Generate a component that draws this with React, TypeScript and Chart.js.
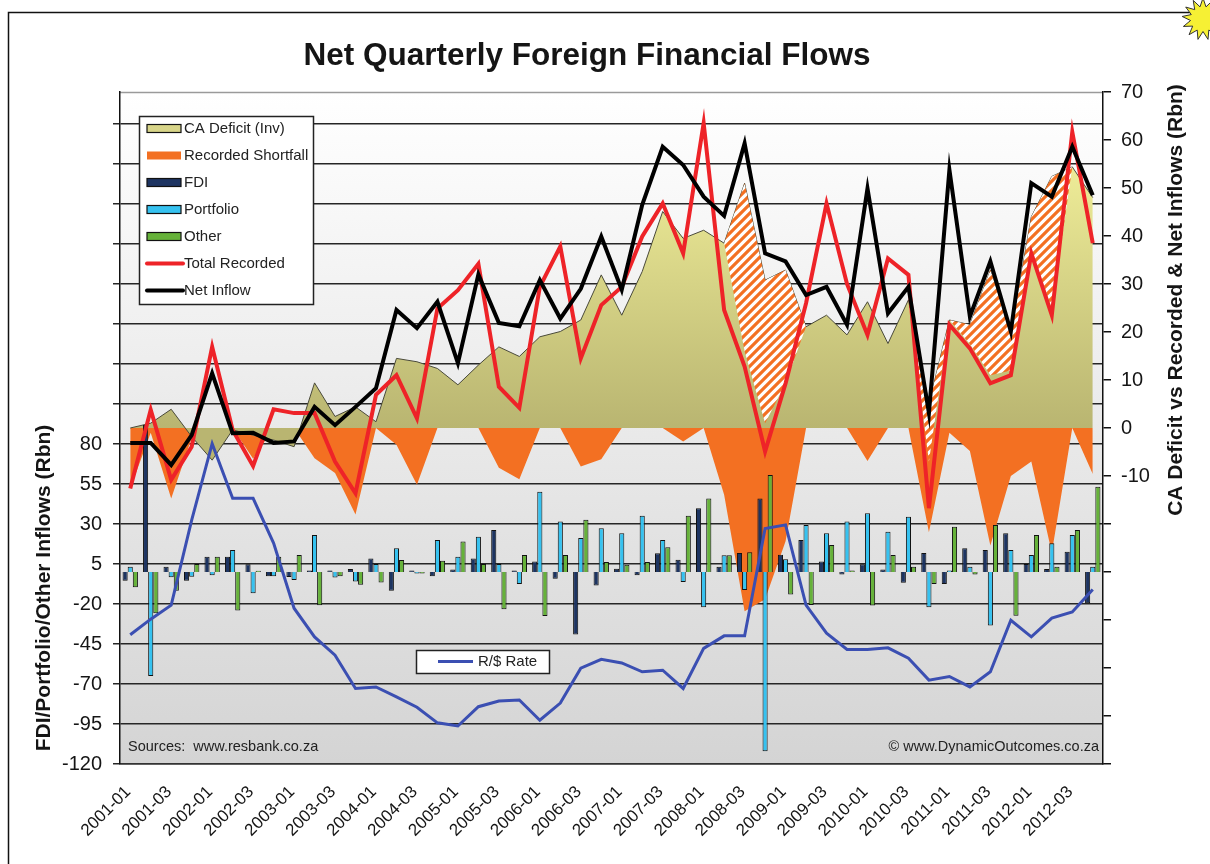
import React, { useEffect, useRef } from 'react';
import { Chart, registerables } from 'chart.js';

Chart.register(...registerables);

const FONT = "'Liberation Sans', Arial, Helvetica, sans-serif";

const TITLE = 'Net Quarterly Foreign Financial Flows';
const LEFT_TITLE = 'FDI/Portfolio/Other Inflows (Rbn)';
const RIGHT_TITLE = 'CA Deficit vs Recorded & Net Inflows (Rbn)';
const SOURCE_TEXT = 'Sources:  www.resbank.co.za';
const COPY_TEXT = '\u00A9 www.DynamicOutcomes.co.za';

const quarters = [
  '2001-01', '2001-02', '2001-03', '2001-04',
  '2002-01', '2002-02', '2002-03', '2002-04',
  '2003-01', '2003-02', '2003-03', '2003-04',
  '2004-01', '2004-02', '2004-03', '2004-04',
  '2005-01', '2005-02', '2005-03', '2005-04',
  '2006-01', '2006-02', '2006-03', '2006-04',
  '2007-01', '2007-02', '2007-03', '2007-04',
  '2008-01', '2008-02', '2008-03', '2008-04',
  '2009-01', '2009-02', '2009-03', '2009-04',
  '2010-01', '2010-02', '2010-03', '2010-04',
  '2011-01', '2011-02', '2011-03', '2011-04',
  '2012-01', '2012-02', '2012-03', '2012-04',
];

// Right axis (Rbn)
const caDeficit = [
  0, 1, 3.9, -1.8, -6.7, -0.4, -1.5, -2.5, -3.9, 9.4, 2.4, 4.4,
  1.3, 14.5, 13.8, 12.4, 9.0, 13.1, 16.9, 14.9, 19.0, 20.1, 22.5, 31.9,
  23.5, 32.6, 45.1, 39.5, 41.2, 38.5, 51.0, 30.8, 32.9, 21.1, 23.5, 19.4,
  26.3, 17.6, 26.7, 5.0, 22.5, 21.5, 32.9, 19.7, 44.0, 52.4, 54.4, 48.0,
];
const recordedShortfall = [
  -12.6, -1, -14.7, -2.1, 0, 0, -6.4, 0, 0, -6.3, -9.4, -18,
  0, -3.5, -11.8, 0, 0, 0, -8.3, -10.7, 0, 0, -8, -6.5,
  0, 0, 0, -2.8, 0, -13.9, -38.2, -35.7, -23.6, 0, 0, 0,
  -6.9, 0, 0, -21.7, -1, -4.8, -24.5, -10, -7, -26, 0, -9.6,
];
const totalRecorded = [
  -12.6, 3.8, -10.8, -3.9, 16.9, -0.4, -7.9, 3.9, 3.1, 3.1, -7.0, -13.6,
  6.9, 11.0, 2.0, 24.9, 28.7, 34.2, 8.6, 4.2, 29.4, 37.8, 14.5, 25.6,
  29.4, 39.9, 46.8, 36.4, 63.5, 24.6, 12.8, -4.9, 9.3, 26.0, 46.8, 30.0,
  19.4, 35.3, 31.9, -16.7, 21.5, 16.6, 9.3, 11.0, 36.4, 23.5, 61.7, 38.5,
];
const netInflow = [
  -3.1, -3.1, -7.7, -1.5, 11.4, -1.1, -1.0, -3.1, -2.8, 4.4, 0.6, 4.4,
  8.3, 24.6, 20.8, 26.3, 13.5, 32.0, 21.9, 21.2, 30.8, 22.8, 29.0, 39.9,
  28.8, 46.5, 58.6, 54.8, 48.2, 44.2, 59.3, 36.4, 34.7, 27.7, 29.4, 21.5,
  49.9, 23.9, 29.4, 3.1, 53.8, 23.2, 34.7, 20.1, 51.0, 48.2, 58.6, 48.5,
];
// lower edge of the hatched (unrecorded) band, null where there is no hatching
const hatchFloor = [
  null, null, null, null, null, null, null, null, null, null, null, null,
  null, null, null, null, null, null, null, null, null, null, null, null,
  null, null, null, null, null, 38.5, 16.0, 1.0, 9.3, 21.1, null, null,
  null, null, 26.7, -7.0, 22.5, 17.5, 11.0, 12.0, 37.0, 25.0, 54.4, null,
];

// Left axis (Rbn)
const fdi = [
  -5.5, 92, 3.3, -5.4, 9.6, 9.6, 4.8, -2.7, -3.1, 1, 1, 1.9,
  8.5, -11.7, 1, -2.7, 1.5, 8.5, 26.3, 1, 6.5, -4.2, -39, -8.5,
  2, -2, 11.7, 7.7, 39.8, 3.3, 11.9, 46, 10.8, 20, 6.5, -1.5,
  4.8, 1.5, -6.7, 11.9, -7.5, 14.8, 13.8, 24.2, 5, 1.9, 12.7, -19.6,
];
const portfolio = [
  3.3, -65, -3.3, -2.9, -2, 13.8, -13.3, -2.7, -5, 23.1, -3.5, -6,
  5, 14.8, -1, 20, 9.6, 22, 5, -7.5, 50.2, 31.5, 21.2, 27.3,
  24.2, 35.2, 20, -6.2, -22, 10.4, -11.3, -112, 8, 29.4, 24.2, 31.5,
  36.7, 25.2, 34.6, -22, 1, 3.3, -33.5, 13.8, 10.6, 18, 23.1, 3.3,
];
const other = [
  -9.6, -25.8, -11.7, 5, 9.6, -24, 0.8, 9.6, 10.6, -20.8, -2.7, -8,
  -6.5, 7.5, -1, 7, 19, 5, -23.3, 10.6, -27.5, 10.6, 32.7, 6.3,
  4.6, 6.3, 15.4, 35.2, 46, 10.4, 12.3, 60.6, -14, -20.6, 16.9, 1,
  -21, 10.6, 3.3, -7.5, 28.3, -1.5, 29.4, -27.3, 23.1, 3.3, 26.3, 53.3,
];

// Rand per US dollar
const randDollar = [
  7.78, 8.08, 8.35, 9.98, 11.45, 10.4, 10.4, 9.54, 8.29, 7.74, 7.39, 6.75,
  6.78, 6.59, 6.39, 6.09, 6.03, 6.4, 6.51, 6.53, 6.14, 6.47, 7.14, 7.31,
  7.24, 7.07, 7.1, 6.75, 7.52, 7.76, 7.76, 9.82, 9.89, 8.35, 7.81, 7.5,
  7.5, 7.53, 7.33, 6.91, 6.98, 6.78, 7.07, 8.06, 7.74, 8.1, 8.22, 8.65,
];

const leftTicks = [-120, -95, -70, -45, -20, 5, 30, 55, 80, 105, 130, 155, 180, 205, 230, 255, 280];
const LEFT_LABEL_MAX = 80;
const RIGHT_LABEL_MIN = -10;

const C = {
  khakiTop: '#f3f19b',
  khakiBottom: '#b9b571',
  khakiSwatch: '#d8d589',
  orange: '#f37022',
  navy: '#1d3461',
  cyan: '#36c2f0',
  green: '#66b23a',
  red: '#ee2328',
  black: '#000000',
  blue: '#3b4fb2',
  grid: '#262626',
  text: '#151515',
};

const legendRows = [
  { label: 'CA Deficit (Inv)', kind: 'rect', fill: C.khakiSwatch, stroke: true },
  { label: 'Recorded Shortfall', kind: 'rect', fill: C.orange, stroke: false },
  { label: 'FDI', kind: 'rect', fill: C.navy, stroke: true },
  { label: 'Portfolio', kind: 'rect', fill: C.cyan, stroke: true },
  { label: 'Other', kind: 'rect', fill: C.green, stroke: true },
  { label: 'Total Recorded', kind: 'line', fill: C.red, stroke: false },
  { label: 'Net Inflow', kind: 'line', fill: C.black, stroke: false },
];

function makeHatch(): CanvasPattern | string {
  const c = document.createElement('canvas');
  c.width = 9;
  c.height = 9;
  const g = c.getContext('2d');
  if (!g) return C.orange;
  g.fillStyle = '#ffffff';
  g.fillRect(0, 0, 9, 9);
  g.strokeStyle = C.orange;
  g.lineWidth = 3.2;
  g.beginPath();
  g.moveTo(-3, 3); g.lineTo(3, -3);
  g.moveTo(-1, 10); g.lineTo(10, -1);
  g.moveTo(6, 12); g.lineTo(12, 6);
  g.stroke();
  const p = g.createPattern(c, 'repeat');
  return p || C.orange;
}

const decorPlugin = {
  id: 'decor',
  beforeDraw(chart: any) {
    const { ctx, chartArea: a, width, height } = chart;
    ctx.save();
    ctx.fillStyle = '#ffffff';
    ctx.fillRect(0, 0, width, height);
    const g = ctx.createLinearGradient(0, a.top, 0, a.bottom);
    g.addColorStop(0, '#ffffff');
    g.addColorStop(1, '#d4d4d4');
    ctx.fillStyle = g;
    ctx.fillRect(a.left, a.top, a.right - a.left, a.bottom - a.top);
    ctx.strokeStyle = '#9a9a9a';
    ctx.lineWidth = 1.5;
    ctx.beginPath();
    ctx.moveTo(a.left, a.top + 0.5);
    ctx.lineTo(a.right, a.top + 0.5);
    ctx.stroke();
    ctx.restore();
  },
  afterDraw(chart: any) {
    const { ctx, chartArea: a } = chart;
    ctx.save();

    // outer frame
    ctx.strokeStyle = '#111';
    ctx.lineWidth = 1.5;
    ctx.beginPath();
    ctx.moveTo(8.5, chart.height);
    ctx.lineTo(8.5, 12.5);
    ctx.lineTo(1195, 12.5);
    ctx.stroke();

    // starburst
    const cx = 1203, cy = 19, R = 21, r = 12.5, n = 13;
    ctx.beginPath();
    for (let k = 0; k < 2 * n; k++) {
      const ang = -Math.PI / 2 + (k * Math.PI) / n;
      const rad = k % 2 === 0 ? R : r;
      const px = cx + rad * Math.cos(ang);
      const py = cy + rad * Math.sin(ang);
      if (k === 0) ctx.moveTo(px, py); else ctx.lineTo(px, py);
    }
    ctx.closePath();
    ctx.fillStyle = '#f6f034';
    ctx.fill();
    ctx.strokeStyle = '#333';
    ctx.lineWidth = 1;
    ctx.stroke();

    // title
    ctx.fillStyle = C.text;
    ctx.font = `bold 31.5px ${FONT}`;
    ctx.textAlign = 'center';
    ctx.textBaseline = 'alphabetic';
    ctx.fillText(TITLE, 587, 65);

    // axis titles
    ctx.font = `bold 21px ${FONT}`;
    ctx.textBaseline = 'middle';
    ctx.save();
    ctx.translate(44, 588);
    ctx.rotate(-Math.PI / 2);
    ctx.fillText(LEFT_TITLE, 0, 0);
    ctx.restore();
    ctx.save();
    ctx.translate(1176, 300);
    ctx.rotate(-Math.PI / 2);
    ctx.fillText(RIGHT_TITLE, 0, 0);
    ctx.restore();

    // main legend
    const lx = a.left + 19, ly = a.top + 24, lw = 174, lh = 188;
    ctx.fillStyle = '#ffffff';
    ctx.fillRect(lx, ly, lw, lh);
    ctx.strokeStyle = '#222';
    ctx.lineWidth = 1.5;
    ctx.strokeRect(lx + 0.5, ly + 0.5, lw, lh);
    ctx.font = `15px ${FONT}`;
    ctx.textAlign = 'left';
    ctx.textBaseline = 'middle';
    legendRows.forEach((row, k) => {
      const yy = ly + 12.5 + k * 27;
      if (row.kind === 'rect') {
        ctx.fillStyle = row.fill;
        ctx.fillRect(lx + 8, yy - 4, 34, 8);
        if (row.stroke) {
          ctx.strokeStyle = '#111';
          ctx.lineWidth = 1.2;
          ctx.strokeRect(lx + 8, yy - 4, 34, 8);
        }
      } else {
        ctx.strokeStyle = row.fill;
        ctx.lineWidth = 4;
        ctx.lineCap = 'round';
        ctx.beginPath();
        ctx.moveTo(lx + 8, yy);
        ctx.lineTo(lx + 44, yy);
        ctx.stroke();
        ctx.lineCap = 'butt';
      }
      ctx.fillStyle = '#222';
      ctx.fillText(row.label, lx + 45, yy);
    });

    // R/$ legend
    const rx = 416, ry = 650, rw = 133, rh = 23;
    ctx.fillStyle = '#ffffff';
    ctx.fillRect(rx, ry, rw, rh);
    ctx.strokeStyle = '#222';
    ctx.lineWidth = 1.5;
    ctx.strokeRect(rx + 0.5, ry + 0.5, rw, rh);
    ctx.strokeStyle = C.blue;
    ctx.lineWidth = 3;
    ctx.beginPath();
    ctx.moveTo(rx + 22, ry + 11.5);
    ctx.lineTo(rx + 57, ry + 11.5);
    ctx.stroke();
    ctx.fillStyle = '#222';
    ctx.fillText('R/$ Rate', rx + 62, ry + 12);

    // sources
    ctx.font = `14.5px ${FONT}`;
    ctx.textBaseline = 'alphabetic';
    ctx.fillStyle = '#222';
    ctx.textAlign = 'left';
    ctx.fillText(SOURCE_TEXT, a.left + 8, a.bottom - 13);
    ctx.textAlign = 'right';
    ctx.fillText(COPY_TEXT, a.right - 4, a.bottom - 13);

    ctx.restore();
  },
};

export default function App() {
  const ref = useRef<HTMLCanvasElement>(null);

  useEffect(() => {
    const canvas = ref.current;
    if (!canvas) return;
    const hatch = makeHatch();

    const caFill = (c: any) => {
      const ch = c.chart;
      const a = ch.chartArea;
      if (!a || !ch.scales || !ch.scales.yR) return C.khakiSwatch;
      const y0 = ch.scales.yR.getPixelForValue(0);
      const g = ch.ctx.createLinearGradient(0, a.top + 50, 0, y0);
      g.addColorStop(0, C.khakiTop);
      g.addColorStop(1, C.khakiBottom);
      return g;
    };

    const lineBase = {
      type: 'line' as const,
      yAxisID: 'yR',
      pointRadius: 0,
      pointHoverRadius: 0,
      tension: 0,
    };

    const chart = new Chart(canvas, {
      type: 'bar',
      data: {
        labels: quarters,
        datasets: [
          {
            ...lineBase,
            label: 'CA Deficit (Inv)',
            data: caDeficit,
            fill: 'origin',
            backgroundColor: caFill,
            borderColor: '#4a4a3a',
            borderWidth: 1,
            order: 9,
          },
          {
            ...lineBase,
            label: 'Recorded Shortfall',
            data: recordedShortfall,
            fill: 'origin',
            backgroundColor: C.orange,
            borderColor: 'rgba(0,0,0,0)',
            borderWidth: 1,
            order: 10,
          },
          {
            type: 'bar',
            label: 'FDI',
            data: fdi,
            yAxisID: 'yL',
            backgroundColor: C.navy,
            borderColor: '#111',
            borderWidth: 1,
            categoryPercentage: 0.75,
            barPercentage: 1,
            order: 5,
          },
          {
            type: 'bar',
            label: 'Portfolio',
            data: portfolio,
            yAxisID: 'yL',
            backgroundColor: C.cyan,
            borderColor: '#111',
            borderWidth: 1,
            categoryPercentage: 0.75,
            barPercentage: 1,
            order: 5,
          },
          {
            type: 'bar',
            label: 'Other',
            data: other,
            yAxisID: 'yL',
            backgroundColor: C.green,
            borderColor: '#111',
            borderWidth: 1,
            categoryPercentage: 0.75,
            barPercentage: 1,
            order: 5,
          },
          {
            ...lineBase,
            label: 'Total Recorded',
            data: totalRecorded,
            fill: false,
            borderColor: C.red,
            borderWidth: 4,
            order: 3,
          },
          {
            ...lineBase,
            label: 'Net Inflow',
            data: netInflow,
            fill: false,
            borderColor: C.black,
            borderWidth: 4,
            order: 2,
          },
          {
            ...lineBase,
            label: 'R/$ Rate',
            data: randDollar,
            yAxisID: 'rate',
            fill: false,
            borderColor: C.blue,
            borderWidth: 3,
            order: 1,
          },
          {
            ...lineBase,
            label: 'Unrecorded',
            data: hatchFloor,
            spanGaps: false,
            fill: { target: 0, above: hatch, below: hatch },
            backgroundColor: hatch,
            borderColor: 'rgba(0,0,0,0)',
            borderWidth: 1,
            order: 4,
          },
        ] as any,
      },
      options: {
        responsive: false,
        animation: false,
        events: [],
        layout: { padding: { top: 92, left: 0, right: 0, bottom: 0 } },
        plugins: {
          legend: { display: false },
          tooltip: { enabled: false },
          title: { display: false },
        },
        scales: {
          x: {
            offset: true,
            grid: { display: false, drawTicks: false },
            border: { display: true, color: '#333', width: 1.5 },
            ticks: {
              autoSkip: false,
              maxRotation: 45,
              minRotation: 45,
              padding: 18,
              labelOffset: -2,
              color: C.text,
              font: { family: FONT, size: 17 },
              callback: (_v: any, i: number) => (i % 2 === 0 ? quarters[i] : ''),
            },
            afterFit: (s: any) => { s.height = 100; },
          },
          yL: {
            position: 'left',
            min: -120,
            max: 300,
            afterBuildTicks: (s: any) => { s.ticks = leftTicks.map((v) => ({ value: v })); },
            grid: { color: C.grid, lineWidth: 1.5, tickLength: 7, drawTicks: true },
            border: { display: true, color: '#111', width: 1.5 },
            ticks: {
              padding: 11,
              color: C.text,
              font: { family: FONT, size: 20 },
              callback: (v: any) => (Number(v) <= LEFT_LABEL_MAX ? String(v) : ''),
            },
            afterFit: (s: any) => { s.width = 120; },
          },
          yR: {
            position: 'right',
            min: -70,
            max: 70,
            grid: { drawOnChartArea: false, drawTicks: true, tickLength: 8, color: '#111', lineWidth: 1.5 },
            border: { display: true, color: '#111', width: 1.5 },
            ticks: {
              stepSize: 10,
              padding: 10,
              color: C.text,
              font: { family: FONT, size: 20 },
              callback: (v: any) => (Number(v) >= RIGHT_LABEL_MIN ? String(v) : ''),
            },
            afterFit: (s: any) => { s.width = 107; },
          },
          rate: {
            display: false,
            position: 'left',
            min: 5.3,
            max: 18.2,
          },
        },
      } as any,
      plugins: [decorPlugin],
    });

    return () => chart.destroy();
  }, []);

  return (
    <div style={{ position: 'absolute', left: 0, top: 0, width: 1210, height: 864 }}>
      <canvas ref={ref} width={1210} height={864} style={{ display: 'block' }} />
    </div>
  );
}
